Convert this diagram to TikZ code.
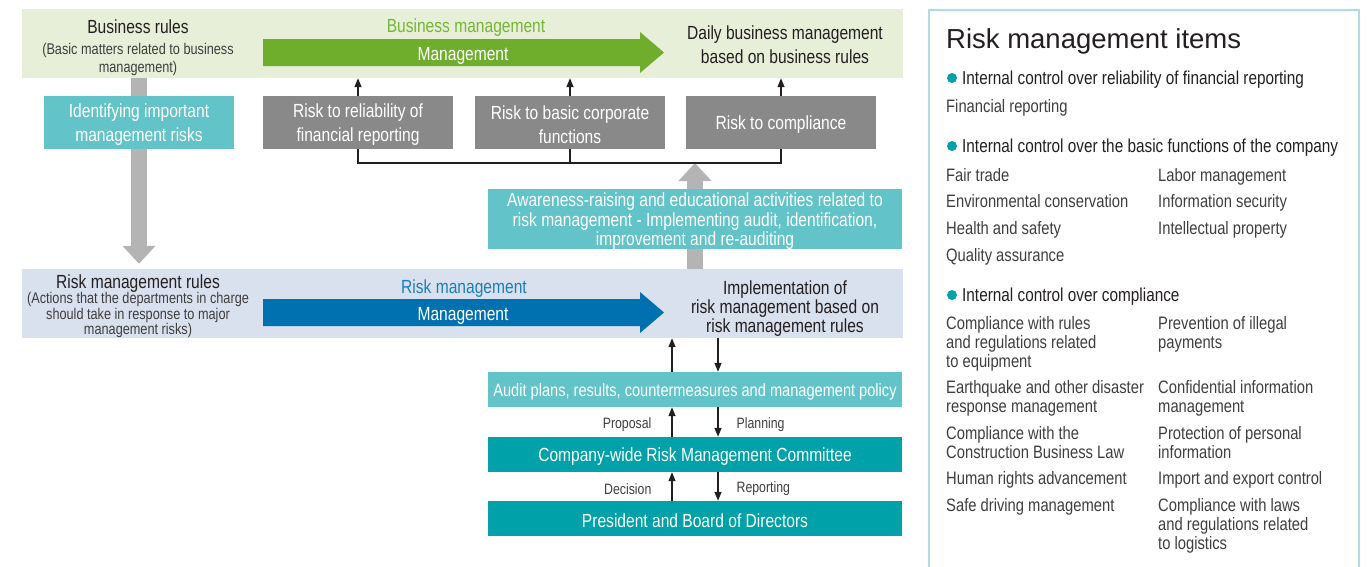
\documentclass[tikz,border=0pt]{standalone}
\usepackage{xcolor}
\usepackage{fontspec}
\setmainfont{Liberation Sans}[FakeStretch=0.82]
\newfontfamily\titlefont{Liberation Sans}
\usetikzlibrary{arrows.meta}

\definecolor{bandgreen}{HTML}{E7EFD9}
\definecolor{bandblue}{HTML}{D9E1EE}
\definecolor{arrowgreen}{HTML}{6FAE2C}
\definecolor{labelgreen}{HTML}{76B537}
\definecolor{arrowblue}{HTML}{0071B0}
\definecolor{labelblue}{HTML}{1C7DBE}
\definecolor{teallight}{HTML}{62C3C9}
\definecolor{tealdark}{HTML}{00A1A8}
\definecolor{riskgray}{HTML}{898989}
\definecolor{arrowgray}{HTML}{B4B4B4}
\definecolor{panelline}{HTML}{B3DDE1}
\definecolor{textblack}{HTML}{231F20}
\definecolor{subgray}{HTML}{3E3E3E}

\pgfdeclarelayer{background}
\pgfsetlayers{background,main}

\tikzset{
  band/.style={minimum width=881pt, minimum height=69pt, inner sep=0pt},
  box/.style={inner sep=0pt, text=white, align=center, font=\fontsize{19}{24}\selectfont},
  boxtext/.style={inner sep=0pt, text=white, align=center, yshift=-2.5pt, font=\fontsize{19}{24}\selectfont},
  riskbox/.style={box, fill=riskgray, minimum width=190pt, minimum height=53pt},
  tealbox/.style={box, minimum width=414pt, minimum height=35pt},
  headtext/.style={inner sep=0pt, text=textblack, align=center, yshift=-2.5pt, font=\fontsize{19}{24}\selectfont},
  subtext/.style={inner sep=0pt, text=subgray, align=center, yshift=-2pt, font=\fontsize{15.5}{18}\selectfont},
  flowtip/.style={-{Triangle[length=9pt,width=7pt]}, line width=1.3pt, draw=textblack},
  bigarrow/.style={line width=16pt, draw=arrowgray, -{Triangle[length=18pt,width=32pt]}},
  flowlabel/.style={inner sep=0pt, text=subgray, yshift=-2.5pt, font=\fontsize{15}{18}\selectfont},
  panelitem/.style={inner sep=0pt, anchor=base west, align=left, text=subgray, font=\fontsize{18}{19}\selectfont},
  panelhead/.style={inner sep=0pt, anchor=base west, text=textblack, font=\fontsize{18.7}{19}\selectfont},
}

\begin{document}
\begin{tikzpicture}[x=1pt,y=-1pt]
  \useasboundingbox (0,0) rectangle (1369,566);

  % business level
  \node[band, fill=bandgreen] (bizband) at (462.5,43.5) {};
  \node[headtext] (bizrules) at (138,24) {Business rules};
  \node[subtext] (bizsub) at (138,57) {(Basic matters related to business\\management)};
  \fill[arrowgreen] (263,39) -- (640,39) -- (640,32) -- (664,52.5) -- (640,73) -- (640,66) -- (263,66) -- cycle;
  \node[headtext, text=labelgreen] (bizlabel) at (466,25) {Business management};
  \node[boxtext] (bizmgmt) at (463,53) {Management};
  \node[headtext, yshift=2.5pt] (daily) at (785,45) {Daily business management\\based on business rules};

  % risk management level
  \node[band, fill=bandblue] (riskband) at (462.5,303.5) {};
  \node[headtext] (riskrules) at (138,281) {Risk management rules};
  \node[subtext, font=\fontsize{15.5}{14}\selectfont] (risksub) at (138,313)
    {(Actions that the departments in charge\\should take in response to major\\management risks)};
  \fill[arrowblue] (263,299) -- (640,299) -- (640,292) -- (664,312.5) -- (640,333) -- (640,326) -- (263,326) -- cycle;
  \node[headtext, text=labelblue] (risklabel) at (464,286) {Risk management};
  \node[boxtext] (riskmgmt) at (463,313) {Management};
  \node[headtext, font=\fontsize{19}{19}\selectfont] (implement) at (785,306)
    {Implementation of\\risk management based on\\risk management rules};

  % boxes
  \node[box, fill=teallight, minimum width=190pt, minimum height=53pt] (ident) at (139,122.5) {};
  \node[boxtext] at (ident) {Identifying important\\management risks};
  \node[riskbox] (rfin) at (358,122.5) {};
  \node[boxtext] at (rfin) {Risk to reliability of\\financial reporting};
  \node[riskbox] (rbas) at (570,122.5) {};
  \node[boxtext] at (rbas) {Risk to basic corporate\\functions};
  \node[riskbox] (rcomp) at (781,122.5) {};
  \node[boxtext] at (rcomp) {Risk to compliance};
  \node[tealbox, fill=teallight, minimum height=60pt] (aware) at (695,219) {};
  \node[boxtext, font=\fontsize{19}{19.5}\selectfont] at (aware)
    {Awareness-raising and educational activities related to\\risk management - Implementing audit, identification,\\improvement and re-auditing};
  \node[tealbox, fill=teallight] (audit) at (695,389.5) {};
  \node[boxtext, font=\fontsize{17.8}{24}\selectfont] at (audit) {Audit plans, results, countermeasures and management policy};
  \node[tealbox, fill=tealdark] (cmte) at (695,454.5) {};
  \node[boxtext] at (cmte) {Company-wide Risk Management Committee};
  \node[tealbox, fill=tealdark] (pres) at (695,518.5) {};
  \node[boxtext] at (pres) {President and Board of Directors};

  \coordinate (brk) at (695,163);

  % big gray arrows
  \begin{pgfonlayer}{background}
    \draw[bigarrow, shorten >=5pt] (ident |- bizband.south) -- (ident |- riskband.north);
    \draw[bigarrow] (aware |- riskband.north) -- (brk);
  \end{pgfonlayer}

  % risks up to business management
  \foreach \r in {rfin,rbas,rcomp}
    \draw[flowtip] (\r.north) -- (\r.north |- bizband.south);
  \draw[line width=1.3pt, textblack] (rfin.south) |- (brk) -| (rcomp.south);
  \draw[line width=1.3pt, textblack] (rbas.south) -- (rbas.south |- brk);

  % reporting lines
  \draw[flowtip] ([xshift=-23pt]audit.north) -- ([xshift=-23pt]audit.north |- riskband.south);
  \draw[flowtip] ([xshift=23pt]audit.north |- riskband.south) -- ([xshift=23pt]audit.north);
  \draw[flowtip] ([xshift=-23pt]cmte.north) -- ([xshift=-23pt]audit.south)
    node[flowlabel, midway, left=20pt] {Proposal};
  \draw[flowtip] ([xshift=23pt]audit.south) -- ([xshift=23pt]cmte.north)
    node[flowlabel, midway, right=18pt] {Planning};
  \draw[flowtip] ([xshift=-23pt]pres.north) -- ([xshift=-23pt]cmte.south)
    node[flowlabel, midway, left=20pt] {Decision};
  \draw[flowtip] ([xshift=23pt]cmte.south) -- ([xshift=23pt]pres.north)
    node[flowlabel, midway, right=18pt] {Reporting};

  % risk management items
  \draw[panelline, line width=2.5pt] (929,10) rectangle (1359,590);
  \node[inner sep=0pt, anchor=west, text=textblack, font=\titlefont\fontsize{27.5}{30}\selectfont] (title) at (946,41)
    {Risk management items};
  \foreach \y in {78,146,295}
    \fill[tealdark] (952,\y) circle (5);
  \node[panelhead] (h1) at (962,84) {Internal control over reliability of financial reporting};
  \node[panelitem] (i1) at (946,112) {Financial reporting};
  \node[panelhead] (h2) at (962,152) {Internal control over the basic functions of the company};
  \node[panelitem] (f1) at (946,181) {Fair trade};
  \node[panelitem] (f2) at (946,207) {Environmental conservation};
  \node[panelitem] (f3) at (946,234) {Health and safety};
  \node[panelitem] (f4) at (946,261) {Quality assurance};
  \node[panelitem] (f5) at (1158,181) {Labor management};
  \node[panelitem] (f6) at (1158,207) {Information security};
  \node[panelitem] (f7) at (1158,234) {Intellectual property};
  \node[panelhead] (h3) at (962,301) {Internal control over compliance};
  % multi-line items sit on the base line of their last line
  \node[panelitem] (c1) at (946,367) {Compliance with rules\\and regulations related\\to equipment};
  \node[panelitem] (c2) at (946,412) {Earthquake and other disaster\\response management};
  \node[panelitem] (c3) at (946,458) {Compliance with the\\Construction Business Law};
  \node[panelitem] (c4) at (946,484) {Human rights advancement};
  \node[panelitem] (c5) at (946,511) {Safe driving management};
  \node[panelitem] (c6) at (1158,348) {Prevention of illegal\\payments};
  \node[panelitem] (c7) at (1158,412) {Confidential information\\management};
  \node[panelitem] (c8) at (1158,458) {Protection of personal\\information};
  \node[panelitem] (c9) at (1158,484) {Import and export control};
  \node[panelitem] (c10) at (1158,549) {Compliance with laws\\and regulations related\\to logistics};
\end{tikzpicture}
\end{document}
